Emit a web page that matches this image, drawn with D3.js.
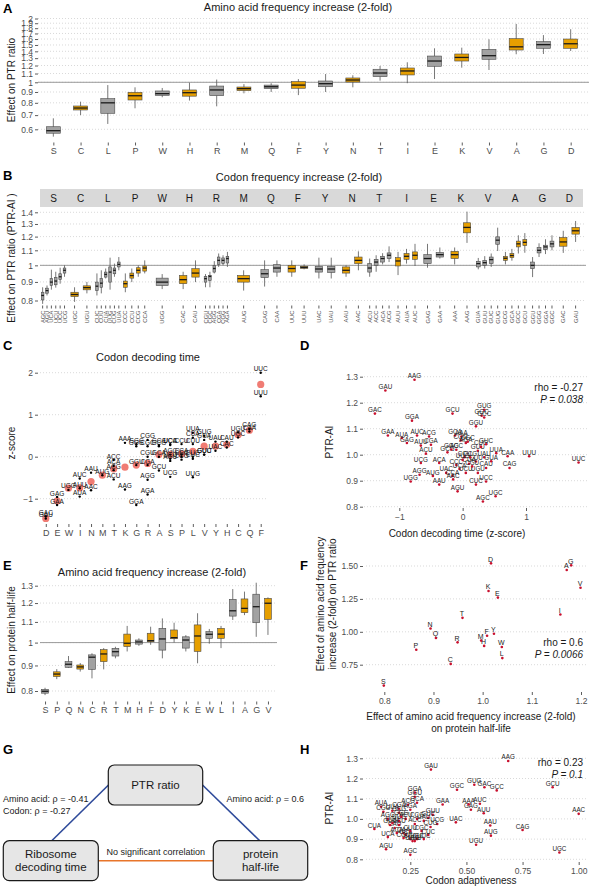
<!DOCTYPE html>
<html><head><meta charset="utf-8">
<script src="https://cdn.jsdelivr.net/npm/d3@7"></script>
<style>body{margin:0;background:#fff}svg{display:block}</style>
</head><body><svg id="c" width="596" height="886"></svg>
<script>
// ---------------- DATA ----------------
// Panel A: amino acid frequency increase -> PTR ratio (box stats)
const aaA = ["S","C","L","P","W","H","R","M","Q","F","Y","N","T","I","E","K","V","A","G","D"];
const medA = [0.591,0.756,0.80,0.864,0.884,0.893,0.92,0.933,0.953,0.97,0.985,1.025,1.106,1.131,1.26,1.31,1.335,1.47,1.505,1.52];
const q1A  = [0.575,0.740,0.714,0.825,0.868,0.86,0.865,0.913,0.933,0.937,0.953,1.003,1.063,1.083,1.19,1.26,1.284,1.42,1.447,1.447];
const q3A  = [0.617,0.773,0.837,0.897,0.91,0.92,0.96,0.95,0.97,1.007,1.014,1.048,1.152,1.168,1.33,1.36,1.43,1.606,1.555,1.6];
const loA  = [0.554,0.70,0.636,0.754,0.85,0.82,0.77,0.887,0.90,0.87,0.90,0.947,1.018,0.99,1.036,1.172,1.143,1.356,1.36,1.405];
const hiA  = [0.676,0.81,0.97,0.947,0.94,0.996,1.03,0.98,0.99,1.035,1.094,1.079,1.194,1.243,1.447,1.457,1.596,1.885,1.67,1.78];
const ticksA = [0.6,0.7,0.8,0.9,1,1.1,1.2,1.3,1.4,1.5,1.6,1.7,1.8,1.9,2];

// Panel B: codon frequency increase -> PTR-AI
const codonB = ["AGC","AGU","UCA","UCU","UCC","UCG","UGC","UGU","CUC","CUU","CUA","UUG","CUG","UUA","CCC","CCU","CCG","CCA","UGG","CAC","CAU","CGU","CGC","AGG","CGA","CGG","AGA","AUG","CAG","CAA","UUC","UUU","UAC","UAU","AAU","AAC","ACU","ACC","ACA","ACG","AUU","AUA","AUC","GAG","GAA","AAA","AAG","GUA","GUU","GUC","GUG","GCG","GCA","GCC","GCU","GGU","GGG","GGA","GGC","GAC","GAU"];
const aaB    = ["S","S","S","S","S","S","C","C","L","L","L","L","L","L","P","P","P","P","W","H","H","R","R","R","R","R","R","M","Q","Q","F","F","Y","Y","N","N","T","T","T","T","I","I","I","E","E","K","K","V","V","V","V","A","A","A","A","G","G","G","G","D","D"];
const medB = [0.826,0.852,0.899,0.905,0.93,0.969,0.831,0.868,0.876,0.893,0.944,0.958,0.969,1.006,0.89,0.937,0.969,0.983,0.899,0.913,0.952,0.919,0.932,0.98,1.032,1.032,1.044,0.919,0.948,0.983,0.98,0.987,0.977,0.977,0.969,1.032,0.983,1.021,1.044,1.066,1.028,1.059,1.066,1.044,1.07,1.07,1.272,1.011,1.017,1.037,1.173,1.046,1.064,1.146,1.157,1.0,1.1,1.124,1.146,1.16,1.245];
const q1B  = [0.803,0.838,0.88,0.884,0.913,0.952,0.82,0.856,0.852,0.87,0.928,0.899,0.948,0.99,0.87,0.922,0.952,0.964,0.88,0.89,0.928,0.899,0.909,0.958,1.006,1.011,1.015,0.899,0.925,0.958,0.958,0.981,0.958,0.956,0.952,1.011,0.958,1.0,1.021,1.044,0.996,1.039,1.039,1.011,1.054,1.044,1.229,0.99,1.0,1.011,1.143,1.032,1.05,1.124,1.134,0.979,1.082,1.105,1.124,1.129,1.219];
const q3B  = [0.843,0.865,0.919,0.925,0.948,0.983,0.843,0.878,0.899,0.919,0.958,0.99,0.983,1.021,0.905,0.952,0.985,0.996,0.922,0.938,0.979,0.932,0.938,0.998,1.054,1.048,1.059,0.938,0.973,1.004,1.0,0.994,0.994,0.994,0.99,1.054,1.011,1.039,1.059,1.082,1.05,1.078,1.089,1.07,1.084,1.093,1.31,1.026,1.032,1.054,1.198,1.059,1.078,1.166,1.178,1.021,1.12,1.136,1.166,1.193,1.272];
const loB  = [0.783,0.826,0.857,0.868,0.89,0.93,0.793,0.837,0.826,0.837,0.92,0.857,0.93,0.969,0.843,0.899,0.93,0.95,0.86,0.86,0.899,0.87,0.87,0.95,0.99,1.0,0.99,0.852,0.874,0.93,0.93,0.975,0.92,0.92,0.93,0.969,0.93,0.96,1.006,1.021,0.94,1.011,0.996,0.985,1.044,1.006,1.153,0.975,0.98,0.99,1.095,1.006,1.03,1.078,1.083,0.928,1.054,1.074,1.1,1.082,1.16];
const hiB  = [0.87,0.88,0.973,0.96,0.985,1.0,0.87,0.9,0.95,0.969,0.98,1.05,1.011,1.054,0.95,0.98,1.0,1.032,0.946,0.96,1.032,0.946,0.96,1.027,1.078,1.066,1.089,0.969,1.032,1.032,1.032,1.006,1.05,1.05,1.0,1.093,1.044,1.066,1.08,1.128,1.089,1.11,1.146,1.146,1.12,1.12,1.406,1.048,1.06,1.078,1.27,1.089,1.11,1.21,1.227,1.054,1.15,1.18,1.21,1.245,1.325];
const ticksB = [0.8,0.9,1,1.1,1.2,1.3,1.4];

// Panel C: codon decoding time (z-score)
const aaC = ["D","E","W","I","N","M","T","K","G","R","A","S","P","L","V","Y","H","C","Q","F"];
const meanC = [-1.47,-1.05,-0.75,-0.74,-0.59,-0.44,-0.29,-0.25,-0.2,-0.16,0.05,0.05,0.07,0.13,0.25,0.25,0.29,0.52,0.63,1.72];
const codonC = ["GAU","GAC","GAG","GAA","UGG","AUU","AUA","AUC","AAU","AAC","AUG","ACC","ACA","ACG","ACU","AAA","AAG","GGG","GGC","GGU","GGA","CGG","CGC","CGU","CGA","AGA","AGG","GCC","GCG","GCA","GCU","UCA","UCC","AGC","AGU","UCU","UCG","CCU","CCA","CCC","CCG","UUA","CUA","CUU","CUG","CUC","UUG","GUG","GUA","GUU","GUC","UAU","UAC","CAU","CAC","UGU","UGC","CAG","CAA","UUC","UUU"];
const codonAaC = ["D","D","E","E","W","I","I","I","N","N","M","T","T","T","T","K","K","G","G","G","G","R","R","R","R","R","R","A","A","A","A","S","S","S","S","S","S","P","P","P","P","L","L","L","L","L","L","V","V","V","V","Y","Y","H","H","C","C","Q","Q","F","F"];
const zC = [-1.47,-1.42,-0.96,-1.15,-0.79,-0.75,-0.95,-0.52,-0.38,-0.8,-0.44,-0.08,-0.22,-0.32,-0.54,0.33,-0.78,0.25,0.3,-0.2,-1.15,0.4,0.25,0.0,-0.2,-0.9,-0.55,0.28,0.25,0.0,-0.33,0.28,0.3,0.05,-0.1,-0.05,-0.48,0.3,0.05,0.0,-0.07,0.57,0.45,0.3,0.0,-0.05,-0.49,0.5,0.4,0.05,0.05,0.36,0.14,0.36,0.22,0.58,0.46,0.66,0.6,2.0,1.44];

// Panel D: decoding time vs PTR-AI
const codonD = ["AAG","GAU","GAC","GCU","GGA","GUG","GGC","GCC","GGU","GAA","AUA","GAG","AUC","ACG","CGA","AUU","ACU","GCA","AAA","CGG","AGA","CGC","GCG","ACC","GGG","GUU","CUG","GUC","UUA","CAA","UUU","UUC","CAG","CAU","CUU","UAU","CCU","UCG","ACA","AGG","AUG","UGG","UAC","CCA","CCC","UCA","UGU","CUC","UCC","CUA","UCU","CGU","GUA","AAU","AAC","CCG","UUG","AGU","AGC","UGC"];
const zD = [-0.76,-1.22,-1.385,-0.16,-0.80,0.34,0.30,0.34,0.21,-1.18,-0.96,-0.88,-0.72,-0.53,-0.50,-0.66,-0.58,-0.12,-0.02,-0.03,0.05,0.08,-0.24,-0.10,-0.18,0.24,0.29,0.37,0.53,0.71,1.05,1.83,0.74,0.37,0.21,0.34,0.03,-0.66,-0.37,-0.68,-0.47,-0.82,-0.26,-0.16,-0.10,-0.05,0.24,0.21,0.37,0.10,0.05,0.15,0.45,-0.37,-0.15,0.12,0.0,-0.08,0.32,0.52];
const ptrD = [1.288,1.247,1.158,1.158,1.131,1.173,1.15,1.143,1.109,1.074,1.064,1.045,1.074,1.07,1.038,1.035,1.004,1.074,1.07,1.055,1.045,1.05,1.009,1.019,1.02,1.015,1.03,1.04,1.006,0.994,0.994,0.97,0.949,0.949,0.974,0.99,0.99,0.968,0.968,0.923,0.918,0.897,0.93,0.918,0.96,0.945,0.93,0.885,0.897,0.965,0.93,0.955,0.975,0.885,0.905,0.99,0.98,0.859,0.82,0.84];

// Panel E: amino acid frequency increase -> protein half-life
const aaE = ["S","P","Q","N","C","R","T","M","H","F","D","Y","K","E","W","L","I","A","G","V"];
const medE = [0.799,0.865,0.905,0.894,0.935,0.949,0.959,0.997,1.003,1.009,1.017,1.023,1.012,1.031,1.039,1.04,1.158,1.171,1.18,1.199];
const q1E  = [0.792,0.855,0.892,0.885,0.884,0.916,0.94,0.982,0.993,1.004,0.966,1.018,0.975,0.96,1.02,1.02,1.13,1.148,1.096,1.113];
const q3E  = [0.806,0.874,0.916,0.902,0.945,0.968,0.974,1.04,1.012,1.044,1.068,1.06,1.027,1.085,1.052,1.068,1.221,1.223,1.25,1.226];
const loE  = [0.785,0.845,0.89,0.875,0.848,0.884,0.93,0.96,0.985,0.99,0.93,1.0,0.96,0.909,0.995,0.975,1.11,1.135,1.027,1.036];
const hiE  = [0.812,0.885,0.94,0.91,0.952,0.975,0.981,1.08,1.02,1.076,1.118,1.096,1.035,1.145,1.065,1.08,1.28,1.265,1.318,1.232];
const ticksE = [0.8,0.9,1,1.1,1.2,1.3];

// Panel H: codon adaptiveness vs PTR-AI
const codonH = ["AAG","GAU","GCU","GGC","GUG","GAC","GCC","AAC","CAG","UGC","UGU","AUG","AAU","AUU","GAG","AAA","AUC","GAA","UAC","AGU","AGC","CUA","UCA","GGA","GGU","GCA","ACG","AUA","CGA","UUA","CGG","GCG","AGA","GUU","GUC","UAU","CCG","AGG","UUG","ACU","ACC","UCG","CUG","CGC","CUC","UCC","CAA","CAU","CCU","CCA","CCC","UGG","UUC","UUU","CGU","ACA","GUA","CUU","GGG","UCU"];
const adH = [0.686,0.342,0.884,0.458,0.535,0.58,0.635,1.0,0.75,0.914,0.543,0.609,0.606,0.577,0.52,0.51,0.56,0.394,0.453,0.142,0.25,0.09,0.15,0.27,0.27,0.28,0.24,0.12,0.2,0.17,0.13,0.2,0.25,0.35,0.33,0.31,0.28,0.15,0.2,0.23,0.27,0.37,0.34,0.3,0.33,0.28,0.22,0.18,0.2,0.23,0.25,0.26,0.31,0.27,0.22,0.19,0.16,0.25,0.21,0.17];
const ptrH = [1.287,1.244,1.157,1.144,1.169,1.157,1.141,1.025,0.945,0.834,0.872,0.917,0.967,1.028,1.045,1.072,1.075,1.071,0.983,0.85,0.822,0.95,0.91,1.13,1.11,1.08,1.07,1.06,1.05,1.04,1.035,1.03,1.045,1.02,1.005,0.99,1.0,1.0,0.99,1.0,0.975,0.975,0.96,0.94,0.92,0.9,0.93,0.955,0.97,0.92,0.9,0.89,0.9,0.89,0.905,0.93,0.97,0.94,1.01,0.98];

// Correlation annotations
const statD = ["rho = -0.27","P = 0.038"];
const statF = ["rho = 0.6","P = 0.0066"];
const statH = ["rho = 0.23","P = 0.1"];
// Panel G diagram labels
const gNodes = [["PTR ratio"],["Ribosome","decoding time"],["protein","half-life"]];
const gEdges = [["Amino acid: \u03c1 = -0.41","Codon: \u03c1 = -0.27"],["Amino acid: \u03c1 = 0.6"],["No significant correlation"]];

// ---------------- DRAWING ----------------
const FONT = '"Liberation Sans", Arial, Helvetica, sans-serif';
const GRAY = "#a2a2a2", ORANGE = "#E69F00", TICKC = "#4d4d4d";
const svg = d3.select("#c").attr("font-family", FONT);

function txt(g, x, y, s, o = {}) {
  const t = g.append("text").attr("x", x).attr("y", y).text(s)
    .attr("font-size", o.size || 10).attr("fill", o.fill || "#1a1a1a")
    .attr("text-anchor", o.anchor || "start");
  if (o.weight) t.attr("font-weight", o.weight);
  if (o.style) t.attr("font-style", o.style);
  if (o.rotate) t.attr("transform", `rotate(${o.rotate},${x},${y})`);
  return t;
}
function grid(g, scale, ticks, x0, x1, refOne) {
  ticks.forEach(v => {
    g.append("line").attr("x1", x0).attr("x2", x1).attr("y1", scale(v)).attr("y2", scale(v))
      .attr("stroke", "#cfcfcf").attr("stroke-width", 0.8).attr("stroke-dasharray", "1,2");
  });
  if (refOne) g.append("line").attr("x1", x0).attr("x2", x1).attr("y1", scale(1)).attr("y2", scale(1))
    .attr("stroke", "#9a9a9a").attr("stroke-width", 1);
}
function yAxis(g, scale, x, ticks, fmt) {
  const a = g.append("g").attr("transform", `translate(${x},0)`)
    .call(d3.axisLeft(scale).tickValues(ticks).tickFormat(fmt).tickSize(3).tickPadding(2));
  a.select(".domain").remove();
  a.selectAll("line").attr("stroke", "#333").attr("stroke-width", 0.8);
  a.selectAll("text").attr("font-size", 8.5).attr("fill", TICKC).attr("font-family", FONT);
}
function xAxis(g, scale, y, ticks, fmt, size) {
  const ax = d3.axisBottom(scale).tickSize(3).tickPadding(2.5);
  if (ticks) ax.tickValues(ticks);
  if (fmt) ax.tickFormat(fmt);
  const a = g.append("g").attr("transform", `translate(0,${y})`).call(ax);
  a.select(".domain").remove();
  a.selectAll("line").attr("stroke", "#333").attr("stroke-width", 0.8);
  a.selectAll("text").attr("font-size", size || 8.5).attr("fill", TICKC).attr("font-family", FONT);
}
function box(g, x, w, y, med, q1, q3, lo, hi, fill) {
  g.append("line").attr("x1", x).attr("x2", x).attr("y1", y(hi)).attr("y2", y(lo))
    .attr("stroke", "#555").attr("stroke-width", 0.8);
  g.append("rect").attr("x", x - w / 2).attr("width", w).attr("y", y(q3)).attr("height", Math.max(0.8, y(q1) - y(q3)))
    .attr("fill", fill).attr("stroke", "#4a4a4a").attr("stroke-width", 0.6);
  g.append("line").attr("x1", x - w / 2).attr("x2", x + w / 2).attr("y1", y(med)).attr("y2", y(med))
    .attr("stroke", "#1a1a1a").attr("stroke-width", 1.3);
}
const f1 = d3.format(".1f"), f2 = d3.format(".2f");
const fLog = v => (v === 1 ? "1" : d3.format("~g")(v));

// ===== Panel A =====
{
  const g = svg.append("g");
  const x = d3.scalePoint().domain(aaA).range([37, 587]).padding(0.6);
  const y = d3.scaleLog().domain([0.6, 2]).range([129.3, 18.5]);
  grid(g, y, ticksA, 38, 589, true);
  yAxis(g, y, 38, ticksA, fLog);
  xAxis(g, x, 142.5, null, null, 9);
  aaA.forEach((a, i) => box(g, x(a), 14, y, medA[i], q1A[i], q3A[i], loA[i], hiA[i], i % 2 ? ORANGE : GRAY));
  txt(g, 298, 11, "Amino acid frequency increase (2-fold)", { size: 11, anchor: "middle" });
  txt(g, 15, 80, "Effect on PTR ratio", { size: 10, anchor: "middle", rotate: -90 });
  txt(g, 3, 13, "A", { size: 13, weight: "bold", fill: "#000" });
}

// ===== Panel B =====
{
  const g = svg.append("g");
  const y = d3.scaleLog().domain([0.8, 1.4]).range([300.5, 212.3]);
  const X0 = 40, X1 = 583, fw = (X1 - X0) / aaA.length;
  grid(g, y, ticksB, X0, X1 + 3, true);
  yAxis(g, y, 38, ticksB, fLog);
  g.append("rect").attr("x", X0).attr("y", 189).attr("width", X1 - X0).attr("height", 18).attr("fill", "#d9d9d9");
  aaA.forEach((a, i) => {
    const fx = X0 + i * fw;
    txt(g, fx + fw / 2, 201.5, a, { size: 10, anchor: "middle" });
    const idx = d3.range(codonB.length).filter(k => aaB[k] === a);
    const sx = d3.scalePoint().domain(idx.map(k => codonB[k])).range([fx, fx + fw]).padding(0.6);
    const w = Math.min(12, sx.step() * 0.6);
    idx.forEach(k => {
      const cx = sx(codonB[k]);
      box(g, cx, w, y, medB[k], q1B[k], q3B[k], loB[k], hiB[k], i % 2 ? ORANGE : GRAY);
      g.append("line").attr("x1", cx).attr("x2", cx).attr("y1", 305.5).attr("y2", 308.5).attr("stroke", "#333").attr("stroke-width", 0.8);
      txt(g, cx + 2, 310.5, codonB[k], { size: 5.8, fill: TICKC, anchor: "end", rotate: -90 });
    });
  });
  txt(g, 299, 181, "Codon frequency increase (2-fold)", { size: 11, anchor: "middle" });
  txt(g, 15, 258, "Effect on PTR ratio (PTR-AI )", { size: 10, anchor: "middle", rotate: -90 });
  txt(g, 3, 180, "B", { size: 13, weight: "bold", fill: "#000" });
}

// ===== Panel C =====
{
  const g = svg.append("g");
  const x = d3.scalePoint().domain(aaC).range([39, 267.5]).padding(0.6);
  const y = d3.scaleLinear().domain([-1, 2]).range([498.7, 372.7]);
  const tk = [-1, 0, 1, 2];
  grid(g, y, tk, 40, 268, false);
  yAxis(g, y, 38, tk, d3.format("d"));
  xAxis(g, x, 524, null, null, 9);
  aaC.forEach((a, i) => g.append("circle").attr("cx", x(a)).attr("cy", y(meanC[i])).attr("r", 3.6).attr("fill", "#F07C74"));
  codonC.forEach((c, i) => {
    const px = x(codonAaC[i]), py = y(zC[i]);
    g.append("circle").attr("cx", px).attr("cy", py).attr("r", 1.2).attr("fill", "#000");
    txt(g, px, py - 1.5, c, { size: 6.5, anchor: "middle", fill: "#111" });
  });
  txt(g, 148, 361, "Codon decoding time", { size: 11, anchor: "middle" });
  txt(g, 15, 443, "z-score", { size: 10, anchor: "middle", rotate: -90 });
  txt(g, 3, 350, "C", { size: 13, weight: "bold", fill: "#000" });
}

// ===== Panel D =====
{
  const g = svg.append("g");
  const x = d3.scaleLinear().domain([-1, 1]).range([399.3, 526]);
  const y = d3.scaleLinear().domain([0.8, 1.3]).range([506.7, 376.7]);
  const tk = [0.8, 0.9, 1.0, 1.1, 1.2, 1.3];
  grid(g, y, tk, 364, 587, false);
  yAxis(g, y, 363, tk, f1);
  xAxis(g, x, 508, [-1, 0, 1], d3.format("d"));
  codonD.forEach((c, i) => {
    const px = x(zD[i]), py = y(ptrD[i]);
    txt(g, px, py - 1.5, c, { size: 6.3, anchor: "middle", fill: "#222" });
    g.append("circle").attr("cx", px).attr("cy", py).attr("r", 1.3).attr("fill", "#c8102e");
  });
  txt(g, 583, 391, statD[0], { size: 10, anchor: "end" });
  txt(g, 583, 403, statD[1], { size: 10, anchor: "end", style: "italic" });
  txt(g, 457, 536.5, "Codon decoding time (z-score)", { size: 10, anchor: "middle" });
  txt(g, 333, 442, "PTR-AI", { size: 10, anchor: "middle", rotate: -90 });
  txt(g, 300, 350, "D", { size: 13, weight: "bold", fill: "#000" });
}

// ===== Panel E =====
{
  const g = svg.append("g");
  const x = d3.scalePoint().domain(aaE).range([38, 275]).padding(0.6);
  const y = d3.scaleLog().domain([0.8, 1.3]).range([691, 585.7]);
  grid(g, y, ticksE, 40, 277, true);
  yAxis(g, y, 38, ticksE, fLog);
  xAxis(g, x, 701.5, null, null, 9);
  aaE.forEach((a, i) => box(g, x(a), 6.8, y, medE[i], q1E[i], q3E[i], loE[i], hiE[i], i % 2 ? ORANGE : GRAY));
  txt(g, 152, 575.5, "Amino acid frequency increase (2-fold)", { size: 11, anchor: "middle" });
  txt(g, 15, 640, "Effect on protein half-life", { size: 10, anchor: "middle", rotate: -90 });
  txt(g, 3, 570, "E", { size: 13, weight: "bold", fill: "#000" });
}

// ===== Panel F =====
{
  const g = svg.append("g");
  const x = d3.scaleLinear().domain([0.8, 1.2]).range([384.3, 581]);
  const y = d3.scaleLinear().domain([0.75, 1.5]).range([664.7, 566]);
  const tk = [0.75, 1.0, 1.25, 1.5];
  grid(g, y, tk, 366, 588, false);
  yAxis(g, y, 363, tk, f2);
  xAxis(g, x, 692, [0.8, 0.9, 1.0, 1.1, 1.2], f1);
  aaA.forEach((a, i) => {
    const j = aaE.indexOf(a);
    const px = x(medE[j]), py = y(medA[i]);
    txt(g, px - 0.5, py - 1.8, a, { size: 7, anchor: "middle", fill: "#222" });
    g.append("circle").attr("cx", px).attr("cy", py).attr("r", 1.3).attr("fill", "#c8102e");
  });
  txt(g, 583, 646, statF[0], { size: 10, anchor: "end" });
  txt(g, 583, 658, statF[1], { size: 10, anchor: "end", style: "italic" });
  txt(g, 471, 719.5, "Effect of amino acid frequency increase (2-fold)", { size: 10, anchor: "middle" });
  txt(g, 471, 731.5, "on protein half-life", { size: 10, anchor: "middle" });
  txt(g, 324, 604, "Effect of amino acid frequency", { size: 10, anchor: "middle", rotate: -90 });
  txt(g, 335.5, 604, "increase (2-fold) on PTR ratio", { size: 10, anchor: "middle", rotate: -90 });
  txt(g, 300, 570, "F", { size: 13, weight: "bold", fill: "#000" });
}

// ===== Panel G =====
{
  const g = svg.append("g");
  const blue = "#2e4a9a", orange = "#E8752A";
  g.append("line").attr("x1", 108.5).attr("y1", 785).attr("x2", 51.5).attr("y2", 841).attr("stroke", blue).attr("stroke-width", 1.6);
  g.append("line").attr("x1", 202.5).attr("y1", 785).attr("x2", 260).attr("y2", 841).attr("stroke", blue).attr("stroke-width", 1.6);
  g.append("line").attr("x1", 98).attr("y1", 860.7).attr("x2", 214).attr("y2", 860.7).attr("stroke", orange).attr("stroke-width", 1.6);
  const nodes = [[108.3, 765, 94.4, 40], [3.3, 840.7, 95, 40], [213.3, 840.7, 94.4, 39.5]];
  nodes.forEach((n, i) => {
    g.append("rect").attr("x", n[0]).attr("y", n[1]).attr("width", n[2]).attr("height", n[3]).attr("rx", 6)
      .attr("fill", "#e6e6e6").attr("stroke", "#1a1a1a").attr("stroke-width", 1.2);
    const lines = gNodes[i];
    const cx = n[0] + n[2] / 2, cy = n[1] + n[3] / 2;
    lines.forEach((l, k) => txt(g, cx, cy + 4 + (k - (lines.length - 1) / 2) * 13.5, l, { size: 11.5, anchor: "middle" }));
  });
  txt(g, 3, 801.5, gEdges[0][0], { size: 9 });
  txt(g, 3, 813.5, gEdges[0][1], { size: 9 });
  txt(g, 226.5, 801.5, gEdges[1][0], { size: 9 });
  txt(g, 155.7, 854.5, gEdges[2][0], { size: 9, anchor: "middle" });
  txt(g, 3, 754, "G", { size: 13, weight: "bold", fill: "#000" });
}

// ===== Panel H =====
{
  const g = svg.append("g");
  const x = d3.scaleLinear().domain([0.25, 1]).range([410.3, 578.7]);
  const y = d3.scaleLinear().domain([0.8, 1.3]).range([859.3, 758.3]);
  const tk = [0.8, 0.9, 1.0, 1.1, 1.2, 1.3];
  grid(g, y, tk, 366, 586, false);
  yAxis(g, y, 363, tk, f1);
  xAxis(g, x, 862, [0.25, 0.5, 0.75, 1.0], f2);
  codonH.forEach((c, i) => {
    const px = x(adH[i]), py = y(ptrH[i]);
    txt(g, px, py - 1.5, c, { size: 6.3, anchor: "middle", fill: "#222" });
    g.append("circle").attr("cx", px).attr("cy", py).attr("r", 1.3).attr("fill", "#c8102e");
  });
  txt(g, 583, 766, statH[0], { size: 10, anchor: "end" });
  txt(g, 583, 778, statH[1], { size: 10, anchor: "end", style: "italic" });
  txt(g, 471, 883.5, "Codon adaptiveness", { size: 10, anchor: "middle" });
  txt(g, 333, 808, "PTR-AI", { size: 10, anchor: "middle", rotate: -90 });
  txt(g, 300, 754, "H", { size: 13, weight: "bold", fill: "#000" });
}
</script>
</body></html>
